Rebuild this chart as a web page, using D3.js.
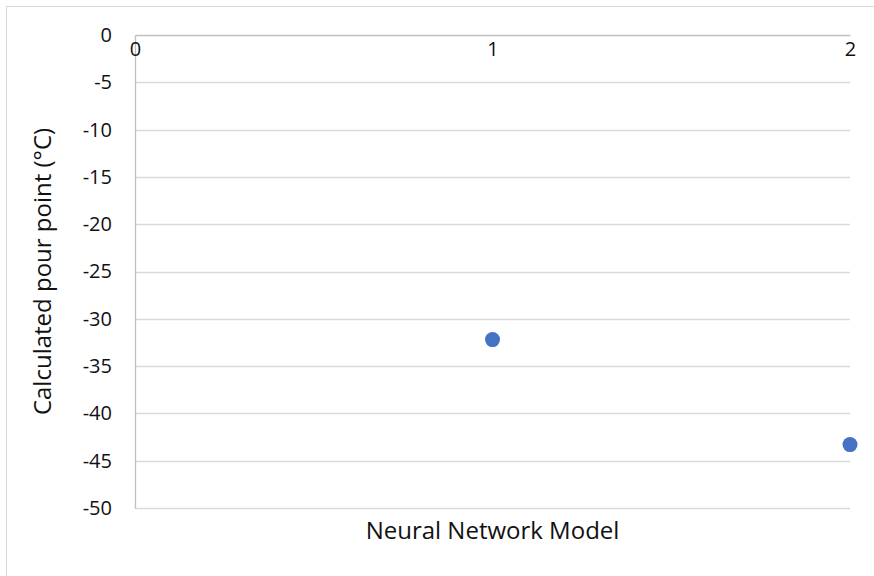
<!DOCTYPE html>
<html>
<head>
<meta charset="utf-8">
<script src="https://cdn.jsdelivr.net/npm/d3@7"></script>
<style>
  html, body { margin: 0; padding: 0; background: #fff; }
  svg { display: block; }
  text { font-family: "Open Sans", "Noto Sans", sans-serif; fill: #111; }
</style>
</head>
<body>
<svg id="chart" width="874" height="576"></svg>
<script>
// Model index (x) and the pour point it predicts (y, °C)
const modelIndex = [1, 2];
const pourPoint = [-32.2, -43.3];
const xTicks = [0, 1, 2];
const yTicks = [0, -5, -10, -15, -20, -25, -30, -35, -40, -45, -50];
const xTitle = "Neural Network Model";
const yTitle = "Calculated pour point (°C)";

const svg = d3.select("#chart");
const W = 874, H = 576;
const plot = { left: 135, right: 850, top: 35, bottom: 508 };

const x = d3.scaleLinear().domain([0, 2]).range([plot.left, plot.right]);
const y = d3.scaleLinear().domain([-50, 0]).range([plot.bottom, plot.top]);

// plain hyphen-minus for negative numbers
const fmt = d => String(d);

// chart area border (runs off the right and bottom edges)
svg.append("rect")
  .attr("x", 6.5).attr("y", 6.5)
  .attr("width", W + 10).attr("height", H + 10)
  .attr("fill", "none").attr("stroke", "#d9d9d9").attr("stroke-width", 1);

// horizontal gridlines
svg.append("g")
  .selectAll("line")
  .data(yTicks.filter(v => v !== 0))
  .join("line")
  .attr("x1", plot.left).attr("x2", plot.right)
  .attr("y1", d => Math.round(y(d)) + 0.5).attr("y2", d => Math.round(y(d)) + 0.5)
  .attr("stroke", "#d9d9d9").attr("stroke-width", 1.3);

// value axis on the left
const yAxis = svg.append("g")
  .attr("transform", `translate(${plot.left},0)`)
  .call(d3.axisLeft(y).tickValues(yTicks).tickSize(0).tickPadding(23).tickFormat(fmt));
yAxis.select(".domain").attr("stroke", "#bfbfbf").attr("stroke-width", 1.3);
yAxis.selectAll("text").style("font-size", "20px").style("font-family", "'Open Sans', sans-serif").attr("fill", "#111");

// category axis crossing at y = 0 (the top of the plot)
const xAxis = svg.append("g")
  .attr("transform", `translate(0,${y(0)})`)
  .call(d3.axisBottom(x).tickValues(xTicks).tickSize(0).tickPadding(7).tickFormat(fmt));
xAxis.select(".domain").attr("stroke", "#bfbfbf").attr("stroke-width", 1.3);
xAxis.selectAll("text").style("font-size", "20px").style("font-family", "'Open Sans', sans-serif").attr("fill", "#111");

// points
svg.append("g")
  .selectAll("circle")
  .data(modelIndex.map((m, i) => ({ m, v: pourPoint[i] })))
  .join("circle")
  .attr("cx", d => x(d.m))
  .attr("cy", d => y(d.v))
  .attr("r", 7.5)
  .attr("fill", "#4472c4");

// axis titles
svg.append("text")
  .attr("x", (plot.left + plot.right) / 2)
  .attr("y", 539)
  .attr("text-anchor", "middle")
  .style("font-size", "24px")
  .text(xTitle);

svg.append("text")
  .attr("transform", `translate(51,${(plot.top + plot.bottom) / 2}) rotate(-90)`)
  .attr("text-anchor", "middle")
  .style("font-size", "24px")
  .text(yTitle);
</script>
</body>
</html>
